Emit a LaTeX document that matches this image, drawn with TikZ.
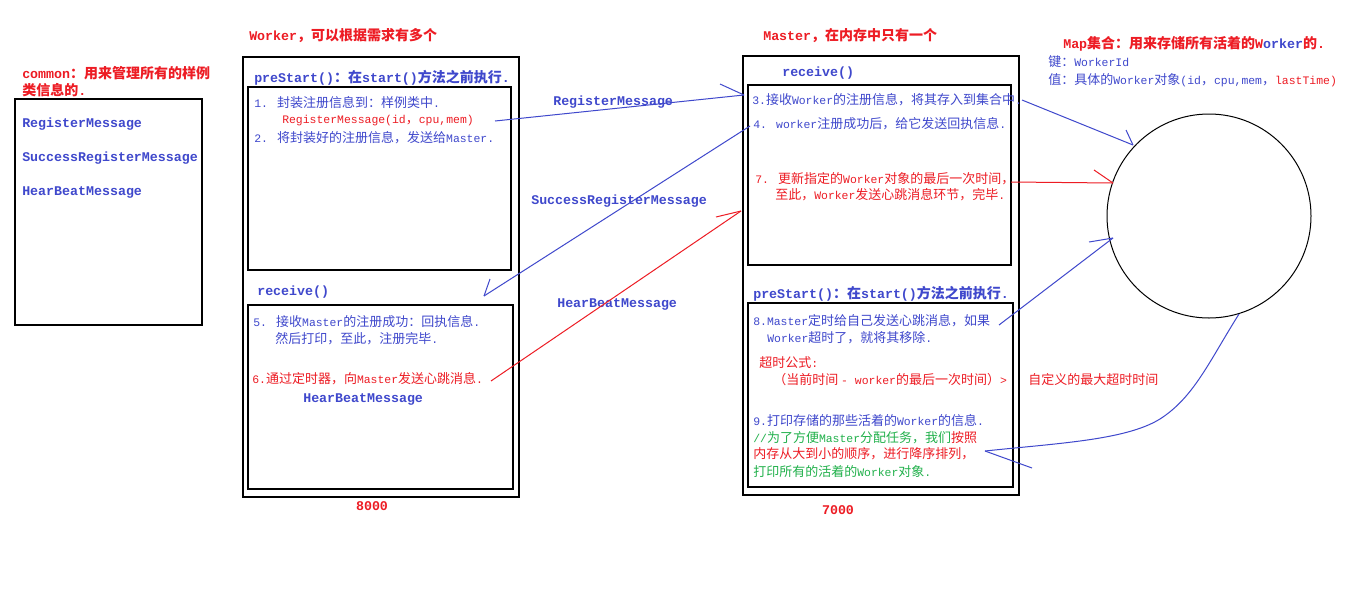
\documentclass[tikz,border=0pt]{standalone}
\usepackage{fontspec}
\setmainfont{Liberation Mono}[Scale=0.88,BoldFeatures={Scale=0.95}]
\newfontfamily\cjkfamily{Noto Sans CJK SC}[NFSSFamily=cjk]
% switch between the Latin and the CJK family at script boundaries
\newcommand\tocjk{\fontfamily{cjk}\selectfont}
\newcommand\tolat{\fontfamily{\rmdefault}\selectfont}
\XeTeXinterchartokenstate=1
\newXeTeXintercharclass\cjkcls
\newcount\cjkcc
\cjkcc="3000 \loop\XeTeXcharclass\cjkcc=\cjkcls\ifnum\cjkcc<"303F \advance\cjkcc by 1 \repeat
\cjkcc="4E00 \loop\XeTeXcharclass\cjkcc=\cjkcls\ifnum\cjkcc<"9FFF \advance\cjkcc by 1 \repeat
\cjkcc="FF00 \loop\XeTeXcharclass\cjkcc=\cjkcls\ifnum\cjkcc<"FFEF \advance\cjkcc by 1 \repeat
\XeTeXinterchartoks 0 \cjkcls = {\tocjk}
\XeTeXinterchartoks 4095 \cjkcls = {\tocjk}
\XeTeXinterchartoks \cjkcls 0 = {\tolat}
\XeTeXinterchartoks 4095 0 = {\tolat}
\definecolor{pblue}{HTML}{3F48CC}
\definecolor{pred}{HTML}{ED1C24}
\definecolor{pgreen}{HTML}{22B14C}
\tikzset{
  txt/.style={anchor=west, inner sep=0pt, font=\fontsize{9.75pt}{12pt}\selectfont},
  btxt/.style={anchor=west, inner sep=0pt, font=\fontsize{10.5pt}{13pt}\selectfont\bfseries},
  frame/.style={draw=black, line width=1pt},
  bl/.style={draw=pblue, line width=0.75pt},
  rl/.style={draw=pred, line width=0.75pt},
}
\begin{document}
\begin{tikzpicture}[x=0.75pt, y=-0.75pt]
\useasboundingbox (0,0) rectangle (1360,604);
\fill[white] (0,0) rectangle (1360,604);

% ---- common: message classes ----
\node[btxt, text=pred] (cT1) at (22,73) {common：用来管理所有的样例};
\node[btxt, text=pred] (cT2) at (22,90) {类信息的.};
\draw[frame] (15,99) rectangle (202,325);
\node[btxt, text=pblue] (cM1) at (22,124) {RegisterMessage};
\node[btxt, text=pblue] (cM2) at (22,158) {SuccessRegisterMessage};
\node[btxt, text=pblue] (cM3) at (22,192) {HearBeatMessage};

% ---- Worker ----
\node[btxt, text=pred] (wT) at (249,36) {Worker，可以根据需求有多个};
\draw[frame] (243,57) rectangle (519,497);
\node[btxt, text=pblue] (wP) at (254,78) {preStart()：在start()方法之前执行.};
\draw[frame] (248,87) rectangle (511,270);
\node[txt, text=pblue] (w1) at (254,103) {1. 封装注册信息到：样例类中.};
\node[txt, text=pred] (w1b) at (282,121) {RegisterMessage(id，cpu,mem)};
\node[txt, text=pblue] (w2) at (254,138) {2. 将封装好的注册信息，发送给Master.};
\node[btxt, text=pblue] (wR) at (257,292) {receive()};
\draw[frame] (248,305) rectangle (513,489);
\node[txt, text=pblue] (w5) at (253,322) {5. 接收Master的注册成功：回执信息.};
\node[txt, text=pblue] (w5b) at (275,339) {然后打印，至此，注册完毕.};
\node[txt, text=pred] (w6) at (252,379) {6.通过定时器，向Master发送心跳消息.};
\node[btxt, text=pblue] (w6b) at (303,399) {HearBeatMessage};
\node[btxt, text=pred, anchor=center] (wPort) at (372,506) {8000};

% ---- Master ----
\node[btxt, text=pred] (mT) at (763,36) {Master，在内存中只有一个};
\draw[frame] (743,56) rectangle (1019,495);
\node[btxt, text=pblue] (mR) at (782,73) {receive()};
\draw[frame] (748,85) rectangle (1011,265);
\node[txt, text=pblue] (m3) at (752,100) {3.接收Worker的注册信息，将其存入到集合中.};
\node[txt, text=pblue] (m4) at (753,124) {4. worker注册成功后，给它发送回执信息.};
\node[txt, text=pred] (m7) at (755,179) {7. 更新指定的Worker对象的最后一次时间，};
\node[txt, text=pred] (m7b) at (775,195) {至此，Worker发送心跳消息环节，完毕.};
\node[btxt, text=pblue] (mP) at (753,294) {preStart()：在start()方法之前执行.};
\draw[frame] (748,303) rectangle (1013,487);
\node[txt, text=pblue] (m8) at (753,321) {8.Master定时给自己发送心跳消息，如果};
\node[txt, text=pblue] (m8b) at (767,338) {Worker超时了，就将其移除.};
\node[txt, text=pred] (mF) at (759,363) {超时公式:};
\node[txt, text=pred] (mFb) at (773,380) {（当前时间 - worker的最后一次时间）>};
\node[txt, text=pred] (mFc) at (1028,380) {自定义的最大超时时间};
\node[txt, text=pblue] (m9) at (753,421) {9.打印存储的那些活着的Worker的信息.};
\node[txt, text=pgreen] (m9b) at (753,438) {//为了方便Master分配任务，我们{\color{pred}按照}};
\node[txt, text=pred] (m9c) at (753,454) {内存从大到小的顺序，进行降序排列，};
\node[txt, text=pgreen] (m9d) at (753,472) {打印所有的活着的Worker对象.};
\node[btxt, text=pred, anchor=center] (mPort) at (838,510) {7000};

% ---- Map of live workers ----
\node[btxt, text=pred] (mapT) at (1063,44) {Map集合：用来存储所有活着的W{\color{pblue}orker}的.};
\node[txt, text=pblue] (mapK) at (1048,62) {键：WorkerId};
\node[txt, text=pblue] (mapV) at (1048,80) {值：具体的Worker对象(id，cpu,mem，{\color{pred}lastTime)}};
\node[draw=black, line width=0.75pt, circle, minimum size=153pt, inner sep=0pt] (map) at (1209,216) {};

% ---- message labels ----
\node[btxt, text=pblue] (lReg) at (553,102) {RegisterMessage};
\node[btxt, text=pblue] (lSuc) at (531,201) {SuccessRegisterMessage};
\node[btxt, text=pblue] (lHb) at (557,304) {HearBeatMessage};

% ---- connector end points ----
\coordinate (regS) at (495,121);  \coordinate (regT) at (744,95);
\coordinate (putS) at (1022,100); \coordinate (putT) at (1133,145);
\coordinate (sucS) at (750,126);  \coordinate (sucT) at (484,296);
\coordinate (hbS)  at (491,381);  \coordinate (hbT)  at (741,211);
\coordinate (updS) at (1011,182); \coordinate (updT) at (1113,183);
\coordinate (chkS) at (999,325);  \coordinate (chkT) at (1113,238);
\coordinate (lstS) at (1239,314); \coordinate (lstT) at (985,451);

% ---- connectors, each with a one-sided barb ----
\draw[bl] (regS) -- (regT);  \draw[bl] (regT) -- +(-24,-11);
\draw[bl] (putS) -- (putT);  \draw[bl] (putT) -- +(-7,-15);
\draw[bl] (sucS) -- (sucT);  \draw[bl] (sucT) -- +(6,-17);
\draw[rl] (hbS) -- (hbT);    \draw[rl] (hbT) -- +(-25,6);
\draw[rl] (updS) -- (updT);  \draw[rl] (updT) -- +(-19,-13);
\draw[bl] (chkS) -- (chkT);  \draw[bl] (chkT) -- +(-24,4);
\draw[bl] (lstS) .. controls (1210,360) and (1195,395) .. (1163,417)
          .. controls (1130,440) and (1060,443) .. (lstT);
\draw[bl] (lstT) -- +(47,17);
\end{tikzpicture}
\end{document}
